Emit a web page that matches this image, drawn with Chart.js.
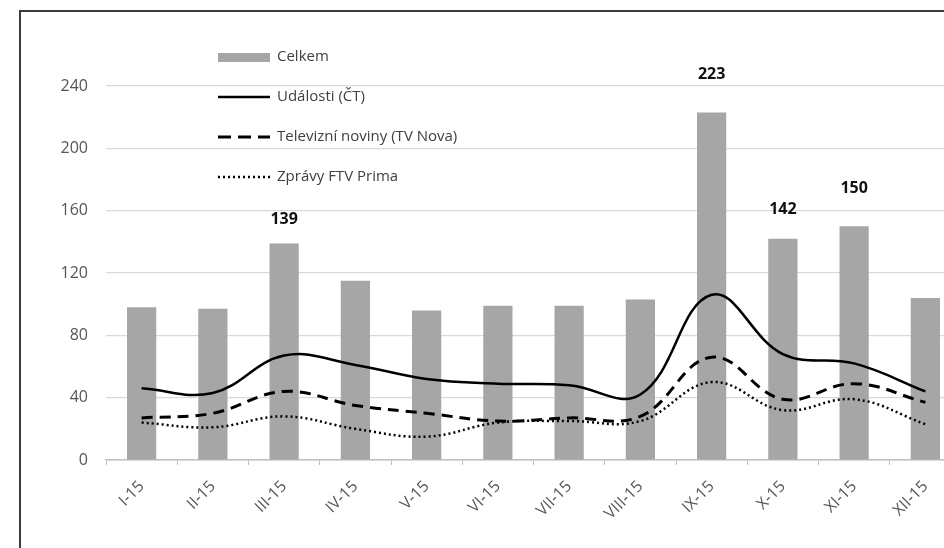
<!DOCTYPE html>
<html>
<head>
<meta charset="utf-8">
<script src="https://cdn.jsdelivr.net/npm/chart.js@4/dist/chart.umd.min.js"></script>
<style>
  html, body { margin: 0; padding: 0; background: #fff; overflow: hidden; }
  #ramecek { position: absolute; left: 19px; top: 10px; width: 1000px; height: 1000px; border: 2px solid #3c3c3c; box-sizing: border-box; }
  #obal { position: absolute; left: 0; top: 0; width: 961px; height: 548px; }
</style>
</head>
<body>
<div id="ramecek"></div>
<div id="obal"><canvas id="graf"></canvas></div>
<script>
// data
const mesice      = ['I-15','II-15','III-15','IV-15','V-15','VI-15','VII-15','VIII-15','IX-15','X-15','XI-15','XII-15'];
const celkem      = [98, 97, 139, 115, 96, 99, 99, 103, 223, 142, 150, 104];
const udalosti    = [46, 43, 67, 61, 52, 49, 48, 42, 106, 68, 62, 44];
const novinyNova  = [27, 30, 44, 35, 30, 25, 27, 28, 66, 39, 49, 37];
const zpravyPrima = [24, 21, 28, 20, 15, 24, 25, 25, 50, 32, 39, 23];
const osaY        = [0, 40, 80, 120, 160, 200, 240];
const popisky     = [2, 8, 9, 10];   // sloupce s hodnotou nad sebou

const pismo = 'Open Sans';
const seda = '#a6a6a6';

// vlastni legenda vlevo nahore
const legendaPlugin = {
  id: 'legendaVlevo',
  afterDraw(chart) {
    const ctx = chart.ctx;
    const polozky = [
      { text: 'Celkem',                     typ: 'bar' },
      { text: 'Události (ČT)',              typ: 'line', dash: [] ,     w: 2.5 },
      { text: 'Televizní noviny (TV Nova)', typ: 'line', dash: [13, 7], w: 3 },
      { text: 'Zprávy FTV Prima',           typ: 'line', dash: [2, 3],  w: 2.5 },
    ];
    ctx.save();
    ctx.font = '15px "' + pismo + '"';
    ctx.textBaseline = 'middle';
    polozky.forEach((p, i) => {
      const y = 57 + i * 40;
      if (p.typ === 'bar') {
        ctx.fillStyle = seda;
        ctx.fillRect(218, y - 4, 52, 9);
      } else {
        ctx.strokeStyle = '#000';
        ctx.lineWidth = p.w;
        ctx.setLineDash(p.dash);
        ctx.beginPath();
        ctx.moveTo(218, y);
        ctx.lineTo(270, y);
        ctx.stroke();
        ctx.setLineDash([]);
      }
      ctx.fillStyle = '#404040';
      ctx.fillText(p.text, 277, y);
    });
    ctx.restore();
  }
};

// hodnoty nad vybranymi sloupci
const hodnotyPlugin = {
  id: 'hodnotyNad',
  afterDatasetsDraw(chart, args, opts) {
    const meta = chart.getDatasetMeta(0);
    const ctx = chart.ctx;
    ctx.save();
    ctx.font = 'bold 16px "' + pismo + '"';
    ctx.fillStyle = '#111';
    ctx.textAlign = 'center';
    ctx.textBaseline = 'middle';
    popisky.forEach(i => {
      const bar = meta.data[i];
      const posun = opts.posun[i] || 30;
      ctx.fillText(String(celkem[i]), bar.x, bar.y - posun);
    });
    ctx.restore();
  }
};

new Chart(document.getElementById('graf'), {
  data: {
    labels: mesice,
    datasets: [
      { type: 'bar', label: 'Celkem', data: celkem, backgroundColor: seda,
        barPercentage: 0.41, categoryPercentage: 1, order: 5 },
      { type: 'line', label: 'Události (ČT)', data: udalosti, borderColor: '#000',
        borderWidth: 2.5, tension: 0.4, pointRadius: 0, fill: false, order: 1 },
      { type: 'line', label: 'Televizní noviny (TV Nova)', data: novinyNova, borderColor: '#000',
        borderWidth: 3, borderDash: [11, 7], tension: 0.4, pointRadius: 0, fill: false, order: 2 },
      { type: 'line', label: 'Zprávy FTV Prima', data: zpravyPrima, borderColor: '#000',
        borderWidth: 2.5, borderDash: [2, 3], tension: 0.4, pointRadius: 0, fill: false, order: 3 },
    ]
  },
  options: {
    responsive: true,
    maintainAspectRatio: false,
    animation: false,
    layout: { padding: { left: 20, top: 86, right: 0, bottom: 0 } },
    plugins: {
      legend: { display: false },
      tooltip: { enabled: false },
      hodnotyNad: { posun: { 2: 24, 8: 38, 9: 29, 10: 38 } }
    },
    scales: {
      x: {
        grid: { drawOnChartArea: false, drawTicks: true, tickLength: 5, color: '#bfbfbf', offset: true },
        border: { color: '#bfbfbf', width: 1.5 },
        ticks: { color: '#555', font: { size: 16, family: pismo }, minRotation: 45, maxRotation: 45, padding: 12 },
        afterFit: s => { s.height = 88; }
      },
      y: {
        min: 0, max: 240,
        afterBuildTicks: s => { s.ticks = osaY.map(v => ({ value: v })); },
        grid: { color: '#d9d9d9', lineWidth: 1.2, drawTicks: false },
        border: { display: false },
        ticks: { color: '#555', font: { size: 16, family: pismo }, padding: 18 },
        afterFit: s => { s.width = 86; }
      }
    }
  },
  plugins: [legendaPlugin, hodnotyPlugin]
});
</script>
</body>
</html>
